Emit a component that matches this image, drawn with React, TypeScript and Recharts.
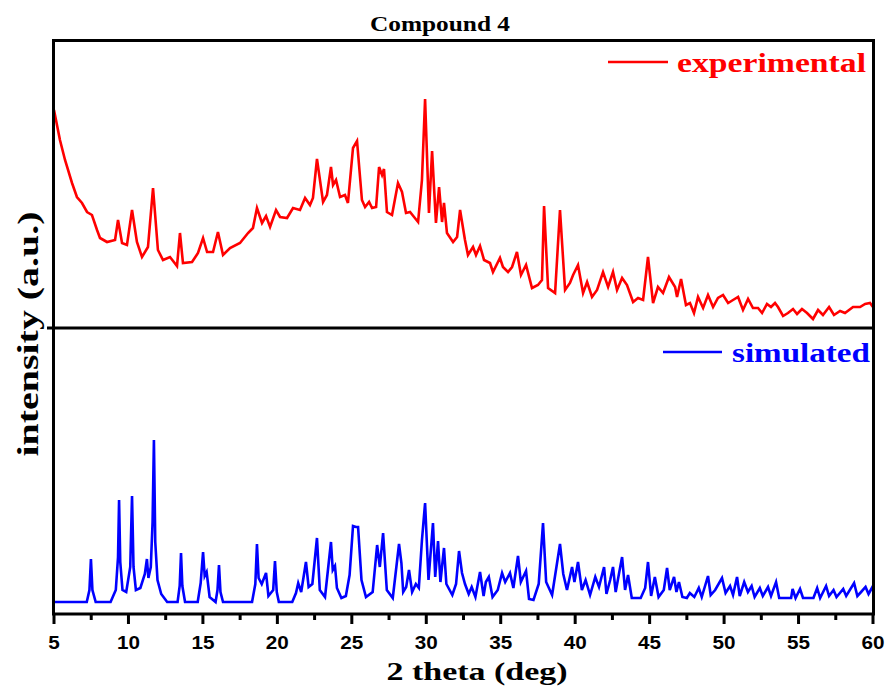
import React from 'react';
import { LineChart, Line, XAxis, YAxis } from 'recharts';

// experimental pattern (top panel), 2theta in deg / intensity in a.u.
const expTheta = [
  5.0, 5.4, 5.74, 6.21, 6.54, 6.88, 7.22, 7.55, 7.89, 8.09, 8.56, 9.1, 9.3, 9.57, 9.9,
  10.24, 10.57, 10.91, 11.31, 11.65, 11.98, 12.32, 12.79, 13.26, 13.46, 13.66, 14.27,
  14.67, 15.01, 15.28, 15.68, 16.01, 16.35, 16.82, 17.49, 18.03, 18.36, 18.63, 18.97,
  19.24, 19.51, 19.91, 20.18, 20.65, 21.05, 21.52, 21.86, 22.19, 22.39, 22.66, 23.07,
  23.33, 23.6, 23.74, 23.94, 24.21, 24.54, 24.74, 25.08, 25.35, 25.68, 25.89, 26.16,
  26.36, 26.63, 26.83, 27.03, 27.16, 27.36, 27.7, 28.1, 28.37, 28.64, 28.91, 29.18,
  29.45, 29.71, 29.92, 30.18, 30.39, 30.65, 30.86, 31.06, 31.19, 31.39, 31.8, 32.07,
  32.27, 32.6, 32.8, 33.14, 33.34, 33.61, 33.88, 34.28, 34.48, 34.95, 35.15, 35.49,
  35.76, 36.09, 36.36, 36.7, 37.1, 37.5, 37.77, 37.91, 38.18, 38.65, 38.98, 39.32,
  39.65, 39.86, 40.19, 40.53, 40.8, 41.13, 41.47, 41.87, 42.21, 42.54, 42.81, 43.15,
  43.48, 43.89, 44.22, 44.56, 44.89, 45.23, 45.56, 45.9, 46.3, 46.71, 46.84, 47.11,
  47.44, 47.71, 47.98, 48.25, 48.59, 48.92, 49.26, 49.59, 49.93, 50.27, 50.6, 50.94,
  51.27, 51.61, 51.94, 52.28, 52.55, 52.88, 53.15, 53.42, 53.62, 53.96, 54.29, 54.63,
  54.9, 55.23, 55.57, 55.97, 56.31, 56.64, 57.05, 57.38, 57.79, 58.12, 58.66, 59.13,
  59.47, 59.8, 60.0,
];
const expIntensity = [
  218, 188, 168, 145, 131, 125, 116, 113, 98, 90, 86, 88, 108, 85, 83,
  118, 86, 71, 81, 140, 78, 68, 71, 62, 95, 65, 66,
  75, 90, 76, 76, 96, 73, 80, 85, 95, 100, 120, 105,
  112, 101, 118, 111, 110, 120, 118, 130, 123, 130, 169, 126,
  133, 161, 143, 148, 131, 133, 125, 180, 187, 128, 121, 126,
  120, 121, 161, 153, 159, 116, 113, 145, 136, 115, 116, 111,
  106, 148, 229, 115, 177, 105, 141, 106, 125, 95, 86, 91,
  118, 88, 73, 81, 73, 82, 68, 65, 56, 70, 61, 56,
  61, 76, 53, 63, 40, 43, 48, 122, 40, 35, 118, 38,
  45, 53, 63, 35, 46, 31, 38, 56, 41, 56, 38, 50,
  43, 26, 30, 28, 71, 25, 41, 35, 51, 41, 31, 49,
  23, 25, 15, 31, 20, 33, 21, 30, 33, 25, 28, 31,
  18, 29, 20, 20, 15, 24, 21, 25, 21, 12, 15, 19,
  14, 19, 15, 9, 18, 13, 21, 13, 17, 15, 21, 21,
  24, 25, 21,
];

// simulated pattern (bottom panel)
const simTheta = [
  5.0, 7.2, 7.38, 7.48, 7.58, 7.8, 8.8, 9.15, 9.3, 9.37, 9.45, 9.6, 9.85, 10.12, 10.24,
  10.34, 10.5, 10.8, 11.1, 11.24, 11.34, 11.5, 11.62, 11.71, 11.8, 11.95, 12.2, 12.6,
  13.3, 13.44, 13.53, 13.62, 13.8, 14.65, 14.85, 15.01, 15.12, 15.25, 15.45, 15.85,
  15.98, 16.08, 16.18, 16.35, 18.3, 18.52, 18.63, 18.74, 18.95, 19.24, 19.4, 19.72,
  19.84, 19.96, 20.1,
  21.0, 21.25, 21.4, 21.6, 21.92, 22.1, 22.35, 22.66, 22.85, 23.2, 23.6,
  23.72, 23.87, 24.0, 24.3, 24.6, 24.85, 25.08, 25.28, 25.42, 25.65, 25.95, 26.4, 26.7,
  26.88, 27.1, 27.35, 27.75, 28.17, 28.33, 28.45, 28.65, 28.84, 29.05, 29.3, 29.5, 29.71,
  29.92, 30.15, 30.45, 30.6, 30.79, 30.95, 31.19, 31.35, 31.75, 32.0, 32.2, 32.4, 32.6,
  32.85, 33.05, 33.3, 33.61, 33.85, 34.0, 34.2, 34.45, 34.8, 35.09, 35.3, 35.62, 35.85,
  36.16, 36.35, 36.7, 36.9, 37.2, 37.55, 37.84, 38.05, 38.45, 38.98, 39.2, 39.45, 39.79,
  39.95, 40.19, 40.45, 40.7, 41.0, 41.35, 41.6, 41.94, 42.1, 42.35, 42.54, 42.72, 42.95,
  43.15, 43.35, 43.55, 43.8, 44.4, 44.7, 44.89, 45.1, 45.35, 45.6, 45.95, 46.17, 46.35,
  46.64, 46.8, 46.97, 47.2, 47.5, 47.7, 48.0, 48.3, 48.5, 48.92, 49.1, 49.4, 49.86,
  50.1, 50.4, 50.6, 50.87, 51.05, 51.35, 51.6, 51.85, 52.05, 52.4, 52.6, 52.95, 53.15,
  53.49, 53.7, 54.5, 54.6, 54.8, 55.1, 55.3, 56.0, 56.25, 56.45, 56.85, 57.05, 57.35,
  57.55, 58.0, 58.2, 58.73, 58.95, 59.2, 59.5, 59.7, 60.0,
];
const simIntensity = [
  0, 0, 12, 43, 12, 0, 0, 12, 45, 102, 40, 12, 10, 35, 106,
  35, 12, 14, 28, 43, 24, 35, 80, 162, 60, 22, 8, 0,
  0, 16, 49, 16, 0, 0, 19, 50, 26, 30, 5, 0,
  12, 37, 10, 0, 0, 18, 58, 24, 18, 29, 6, 12,
  41, 10, 0,
  0, 9, 19, 10, 40, 15, 18, 64, 12, 5, 60,
  32, 36, 14, 4, 6, 27, 76, 75, 75, 22, 5, 10, 57,
  35, 69, 12, 4, 58, 39, 10, 15, 32, 10, 18, 14, 62,
  99, 22, 79, 25, 61, 20, 54, 18, 7, 18, 51, 29, 18,
  8, 15, 5, 30, 6, 20, 25, 5, 12, 29, 20, 29, 14,
  46, 20, 31, 3, 2, 18, 79, 20, 7, 58, 28, 12, 35,
  20, 40, 12, 22, 7, 25, 15, 35, 8, 22, 35, 10, 29,
  45, 12, 27, 4, 4, 14, 40, 6, 25, 5, 12, 34, 12,
  25, 10, 20, 5, 4, 9, 5, 14, 5, 26, 7, 12, 24,
  9, 16, 7, 25, 6, 20, 10, 16, 5, 14, 6, 15, 6,
  20, 4, 4, 13, 4, 13, 4, 4, 14, 4, 16, 6, 12,
  5, 13, 6, 19, 6, 10, 15, 8, 16,
];

const xTicks = [5, 7.5, 10, 12.5, 15, 17.5, 20, 22.5, 25, 27.5, 30, 32.5, 35, 37.5, 40, 42.5, 45, 47.5, 50, 52.5, 55, 57.5, 60];

const expData = expTheta.map((t, i) => ({ theta: t, exp: expIntensity[i] }));
const simData = simTheta.map((t, i) => ({ theta: t, sim: simIntensity[i] }));

const SERIF = '"Liberation Serif", "Times New Roman", serif';
const SANS = '"Liberation Sans", Arial, sans-serif';

const XTick = (props: any) => {
  const { x, y, payload } = props;
  const major = payload.value % 5 === 0;
  const label = String(payload.value);
  return (
    <g>
      <line x1={x} x2={x} y1={y} y2={y + (major ? 10 : 6)} stroke="#000" strokeWidth={3} />
      {major && (
        <text
          x={x}
          y={y + 35}
          textAnchor="middle"
          fontFamily={SANS}
          fontWeight="bold"
          fontSize={18}
          fill="#000"
          textLength={label.length * 11.5}
          lengthAdjust="spacingAndGlyphs"
        >
          {label}
        </text>
      )}
    </g>
  );
};

export default function App() {
  return (
    <div style={{ position: 'absolute', left: 0, top: 0, width: 891, height: 687, background: '#fff' }}>
      <div style={{ position: 'absolute', left: 0, top: 0 }}>
        <LineChart width={891} height={330} data={expData} margin={{ top: 41, right: 18, left: 54, bottom: 2 }}>
          <XAxis dataKey="theta" type="number" domain={[5, 60]} hide />
          <YAxis type="number" domain={[0, 287]} hide />
          <Line type="linear" dataKey="exp" stroke="#ff0000" strokeWidth={2.6} dot={false} isAnimationActive={false} />
        </LineChart>
      </div>
      <div style={{ position: 'absolute', left: 0, top: 0 }}>
        <LineChart width={891} height={687} data={simData} margin={{ top: 328, right: 18, left: 54, bottom: 33 }}>
          <XAxis
            dataKey="theta"
            type="number"
            domain={[5, 60]}
            ticks={xTicks}
            interval={0}
            height={40}
            tickSize={0}
            tickMargin={0}
            axisLine={false}
            tickLine={false}
            tick={<XTick />}
          />
          <YAxis type="number" domain={[-12, 274]} hide />
          <Line type="linear" dataKey="sim" stroke="#0000ff" strokeWidth={2.6} dot={false} isAnimationActive={false} />
        </LineChart>
      </div>
      <svg width={891} height={687} style={{ position: 'absolute', left: 0, top: 0, pointerEvents: 'none' }}>
        <rect x={53.5} y={40.5} width={820} height={573.5} fill="none" stroke="#000" strokeWidth={3} />
        <line x1={47} x2={873.5} y1={328} y2={328} stroke="#000" strokeWidth={3} />
        <text x={440} y={31} textAnchor="middle" fontFamily={SERIF} fontWeight="bold" fontSize={20}
          textLength={140} lengthAdjust="spacingAndGlyphs">Compound 4</text>
        <text x={477} y={680} textAnchor="middle" fontFamily={SERIF} fontWeight="bold" fontSize={26}
          textLength={181} lengthAdjust="spacingAndGlyphs">2 theta (deg)</text>
        <text x={38} y={334} transform="rotate(-90 38 334)" textAnchor="middle" fontFamily={SERIF} fontWeight="bold"
          fontSize={29} textLength={245} lengthAdjust="spacingAndGlyphs">intensity (a.u.)</text>
        <line x1={608} x2={668} y1={62} y2={62} stroke="#ff0000" strokeWidth={2.6} />
        <text x={677} y={72} fontFamily={SERIF} fontWeight="bold" fontSize={28} fill="#ff0000"
          textLength={189} lengthAdjust="spacingAndGlyphs">experimental</text>
        <line x1={663} x2={722} y1={352} y2={352} stroke="#0000ff" strokeWidth={2.6} />
        <text x={732} y={362} fontFamily={SERIF} fontWeight="bold" fontSize={28} fill="#0000ff"
          textLength={138} lengthAdjust="spacingAndGlyphs">simulated</text>
      </svg>
    </div>
  );
}
